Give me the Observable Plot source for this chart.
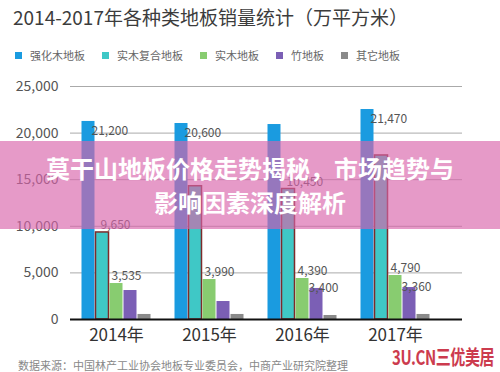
<!DOCTYPE html>
<html>
<head>
<meta charset="utf-8">
<script src="https://cdn.jsdelivr.net/npm/d3@7"></script>
<script src="https://cdn.jsdelivr.net/npm/@observablehq/plot@0.6"></script>
<style>
  html, body { margin: 0; padding: 0; background: #fff; }
  #page { position: relative; width: 500px; height: 372px; overflow: hidden; font-family: "Noto Sans CJK SC", "Noto Sans", sans-serif; }
  #title { height: 36px; padding-top: 4px; line-height: 25px; padding-left: 13px; font-size: 19px; color: #3c3c3c; white-space: nowrap; }
  #legend { height: 30px; line-height: 30px; padding-left: 15px; display: flex; align-items: center; font-size: 11px; color: #666; white-space: nowrap; }
  #legend .item { display: flex; align-items: center; margin-right: 17px; }
  #legend .sw { width: 7px; height: 7px; margin-right: 8px; }
  #chart svg { display: block; }
  #banner { position: absolute; left: 0; top: 141px; width: 500px; height: 88px; background: rgba(216,100,170,0.65); color: #fff; font-weight: 700; font-size: 24px; line-height: 34px; text-align: center; padding-top: 10px; box-sizing: border-box; }
  #caption { position: absolute; left: 18px; top: 357px; font-size: 11px; color: #888; white-space: nowrap; }
  #mark { position: absolute; left: 392px; top: 342px; font-size: 20px; font-weight: 700; color: #cc3b4e; white-space: nowrap; transform: scaleX(0.75); transform-origin: left center; letter-spacing: -0.5px; }
</style>
</head>
<body>
<div id="page">
  <div id="title"></div>
  <div id="legend"></div>
  <div id="chart"></div>
  <div id="banner"></div>
  <div id="caption"></div>
  <div id="mark"></div>
</div>
<script>
// ---- data ----
const titleText = "2014-2017年各种类地板销量统计（万平方米）";
const years = ["2014年", "2015年", "2016年", "2017年"];
const categories = ["强化木地板", "实木复合地板", "实木地板", "竹地板", "其它地板"];
const colors = ["#1a9be0", "#3fc8c6", "#88cc70", "#7b5fb5", "#8a8a8a"];
const laminate   = [21250, 21030, 20920, 22530];
const engineered = [9340, 14300, 14000, 17600];
const solidWood  = [3860, 4290, 4400, 4720];
const bamboo     = [3110, 1930, 3330, 3430];
const others     = [540, 540, 430, 540];
const laminateLabels   = ["21,200", "20,600", "", "21,470"];
const engineeredLabels = ["9,650", "", "10,450", ""];
const solidWoodLabels  = ["3,535", "3,990", "4,390", "4,790"];
const bambooLabels     = ["", "", "3,400", "3,360"];
const othersLabels     = ["", "", "", ""];
const yTicks = [0, 5000, 10000, 15000, 20000, 25000];
const bannerLines = ["莫干山地板价格走势揭秘，市场趋势与", "影响因素深度解析"];
const captionText = "数据来源：中国林产工业协会地板专业委员会，中商产业研究院整理";
const watermarkText = "3U.CN三优美居";

// ---- build table ----
const series = [laminate, engineered, solidWood, bamboo, others];
const seriesLabels = [laminateLabels, engineeredLabels, solidWoodLabels, bambooLabels, othersLabels];
const rows = years.flatMap((year, j) => categories.map((cat, i) => ({
  year, cat, i, value: series[i][j], label: seriesLabels[i][j]
})));

// ---- html text ----
document.getElementById("title").textContent = titleText;
const legend = document.getElementById("legend");
categories.forEach((c, i) => {
  const it = document.createElement("div");
  it.className = "item";
  const sw = document.createElement("div");
  sw.className = "sw";
  sw.style.background = colors[i];
  const t = document.createElement("span");
  t.textContent = c;
  it.appendChild(sw); it.appendChild(t);
  legend.appendChild(it);
});
const banner = document.getElementById("banner");
banner.innerHTML = bannerLines.map(l => `<div>${l}</div>`).join("");
document.getElementById("caption").textContent = captionText;
document.getElementById("mark").textContent = watermarkText;

// ---- chart ----
const barW = 14;
const labelDx = [-25, -16, -5, 6, 0];
const labelDy = [10, -7, -7, 0, 0];

const barMarks = categories.map((cat, i) => Plot.barY(rows.filter(d => d.i === i), {
  x: "year", y: "value", fill: "cat",
  insetLeft: i * barW + 0.5,
  insetRight: (categories.length - 1 - i) * barW + 0.5,
  stroke: i === 1 ? "#7d2b2b" : null,
  strokeWidth: i === 1 ? 1.5 : null
}));
const labelMarks = categories.map((cat, i) => Plot.text(rows.filter(d => d.i === i && d.label), {
  x: "year", y: "value", text: "label",
  textAnchor: "start", dx: labelDx[i], dy: labelDy[i],
  fontSize: 12, fill: "#555"
}));

const chart = Plot.plot({
  width: 500,
  height: 282,
  marginLeft: 70,
  marginRight: 58,
  marginTop: 16,
  marginBottom: 33,
  style: { fontFamily: "'Noto Sans CJK SC', 'Noto Sans', sans-serif", color: "#555", background: "transparent" },
  x: { domain: years, paddingInner: 0.247, paddingOuter: 0.118, label: null },
  y: { domain: [0, 25000], label: null },
  color: { domain: categories, range: colors },
  marks: [
    Plot.ruleY(yTicks, { stroke: "#aaa", strokeWidth: 1, insetRight: -20 }),
    ...barMarks,
    Plot.ruleY([0], { stroke: "#111", strokeWidth: 2, insetRight: -20 }),
    ...labelMarks,
    Plot.axisY(yTicks, { tickSize: 0, tickPadding: 12, fontSize: 14, tickFormat: d3.format(","), label: null, fill: "#555" }),
    Plot.axisX({ tickSize: 0, tickPadding: 9, fontSize: 17, label: null, fill: "#333" })
  ]
});
document.getElementById("chart").appendChild(chart);
</script>
</body>
</html>
